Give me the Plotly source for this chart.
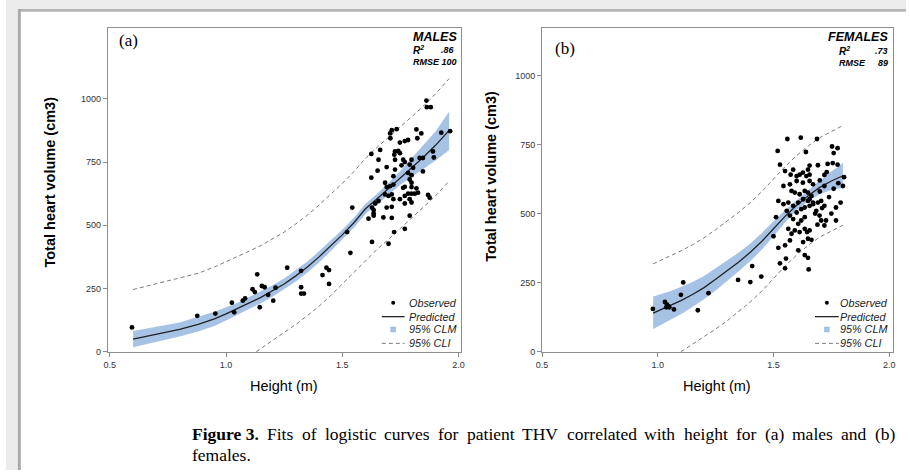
import plotly.graph_objects as go

W, H = 910, 475

# ---------------- males ----------------
male_h = [0.595, 0.876, 0.954, 1.025, 1.035, 1.072, 1.082, 1.114, 1.124, 1.134, 1.145, 1.154,
          1.166, 1.181, 1.203, 1.213, 1.263, 1.323, 1.323, 1.323, 1.335, 1.415, 1.432, 1.443,
          1.443, 1.535, 1.521, 1.543,
          1.635, 1.723,
          1.862, 1.864, 1.881, 1.713, 1.734, 1.706, 1.819, 1.840, 1.707, 1.748, 1.769, 1.783,
          1.823, 1.926, 1.964, 1.663, 1.625, 1.727, 1.741, 1.748, 1.724, 1.890, 1.894, 1.656,
          1.727, 1.762, 1.769, 1.798, 1.833, 1.847, 1.652, 1.691, 1.727, 1.755, 1.790, 1.805,
          1.847, 1.783, 1.798, 1.720, 1.625, 1.684, 1.691, 1.706, 1.720, 1.762, 1.769, 1.790,
          1.798, 1.798, 1.819, 1.826, 1.812, 1.783, 1.798, 1.769, 1.748, 1.790, 1.798, 1.713,
          1.699, 1.684, 1.720, 1.869, 1.876, 1.642, 1.656, 1.691, 1.713, 1.769, 1.628, 1.635,
          1.613, 1.635, 1.677, 1.713, 1.790, 1.769, 1.628, 1.699]
male_thv = [96, 142, 151, 194, 156, 202, 211, 247, 236, 306, 176, 260,
            255, 225, 202, 253, 332, 320, 255, 230, 230, 303, 332, 323,
            268, 391, 473, 570,
            547, 473,
            993, 967, 967, 876, 880, 863, 879, 863, 844, 827, 833, 837,
            844, 866, 872, 798, 782, 792, 794, 785, 779, 792, 768, 759,
            759, 759, 750, 759, 766, 766, 716, 730, 720, 737, 740, 727,
            713, 707, 698, 694, 688, 668, 651, 655, 661, 648, 652, 681,
            668, 651, 646, 629, 625, 625, 625, 616, 603, 603, 590, 622,
            616, 622, 603, 620, 609, 586, 596, 570, 573, 586, 570, 560,
            526, 538, 531, 529, 538, 486, 434, 427]

male_fit_h = [0.60, 0.70, 0.80, 0.88, 0.95, 1.00, 1.05, 1.10, 1.15, 1.20, 1.25, 1.30, 1.35,
              1.40, 1.45, 1.50, 1.55, 1.60, 1.65, 1.70, 1.75, 1.80, 1.85, 1.90, 1.96]
male_pred = [50, 68, 88, 108, 130, 150, 170, 193, 215, 240, 268, 300, 335,
             375, 418, 462, 510, 565, 605, 645, 688, 728, 770, 815, 875]
male_clm_lo = [18, 38, 60, 80, 102, 124, 146, 170, 192, 217, 246, 278, 313,
               353, 397, 442, 490, 545, 585, 622, 660, 692, 722, 755, 798]
male_clm_hi = [82, 98, 116, 138, 158, 176, 194, 216, 238, 263, 290, 322, 357,
               397, 439, 482, 530, 585, 625, 668, 716, 765, 818, 870, 950]
male_cli_hi = [246, 268, 290, 310, 335, 355, 375, 398, 420, 446, 473, 505, 540,
               580, 622, 665, 712, 765, 808, 848, 890, 930, 972, 1018, 1080]
male_cli_lo_h = [1.13, 1.20, 1.25, 1.30, 1.35, 1.40, 1.45, 1.50, 1.55, 1.60, 1.65, 1.70,
                 1.75, 1.80, 1.85, 1.90, 1.96]
male_cli_lo = [0, 45, 75, 108, 143, 180, 222, 268, 315, 362, 405, 445,
               488, 528, 570, 615, 675]

# ---------------- females ----------------
female_h = [0.979, 1.031, 1.037, 1.040, 1.045, 1.050, 1.070, 1.100, 1.110, 1.173, 1.219, 1.347,
            1.400, 1.408, 1.447, 1.500, 1.521, 1.528, 1.550, 1.554, 1.511, 1.652, 1.649, 1.770,
            1.770,
            1.518, 1.560, 1.618, 1.688, 1.640, 1.528, 1.753, 1.777, 1.760, 1.734, 1.756, 1.777,
            1.692, 1.656, 1.649, 1.805,
            1.550, 1.585, 1.574, 1.600, 1.613, 1.627, 1.642, 1.656, 1.543, 1.571, 1.600, 1.627,
            1.656, 1.671, 1.578, 1.592, 1.613, 1.635, 1.649, 1.664, 1.521, 1.543, 1.564, 1.585,
            1.607, 1.628, 1.649, 1.671, 1.557, 1.600, 1.620, 1.635, 1.656, 1.571, 1.585, 1.607,
            1.620, 1.635, 1.564, 1.578, 1.592, 1.613, 1.635, 1.645, 1.571, 1.628, 1.649, 1.550,
            1.607, 1.635,
            1.656, 1.671, 1.692, 1.706, 1.720, 1.685, 1.699, 1.706, 1.727, 1.720, 1.656, 1.664,
            1.700, 1.720, 1.740, 1.760, 1.780, 1.790, 1.800, 1.730, 1.710, 1.750, 1.680, 1.690,
            1.700, 1.720]
female_thv = [155, 180, 161, 170, 165, 161, 153, 206, 251, 150, 212, 260,
              252, 310, 272, 418, 376, 320, 302, 337, 487, 298, 340, 522,
              475,
              727, 770, 775, 770, 723, 677, 743, 737, 719, 680, 683, 677,
              675, 674, 659, 632,
              654, 659, 641, 636, 641, 648, 636, 641, 600, 606, 618, 612,
              618, 606, 582, 576, 570, 582, 576, 564, 546, 534, 540, 528,
              540, 552, 546, 540, 510, 504, 516, 522, 528, 493, 480, 463,
              475, 487, 445, 427, 439, 433, 445, 433, 403, 397, 409, 385,
              367, 350,
              552, 534, 540, 546, 528, 510, 493, 475, 475, 457, 439, 405,
              620, 600, 560, 590, 610, 540, 600, 650, 520, 500, 500, 460,
              580, 640]

female_fit_h = [0.98, 1.05, 1.10, 1.15, 1.20, 1.25, 1.30, 1.35, 1.40, 1.45, 1.50, 1.55,
                1.60, 1.65, 1.70, 1.75, 1.80]
female_pred = [140, 165, 185, 207, 232, 262, 292, 325, 360, 400, 445, 490,
               530, 565, 595, 618, 637]
female_clm_lo = [82, 112, 136, 162, 190, 222, 255, 291, 328, 370, 418, 468,
                 512, 545, 570, 585, 594]
female_clm_hi = [200, 218, 234, 252, 274, 302, 329, 359, 392, 430, 472, 512,
                 548, 585, 620, 652, 683]
female_cli_hi = [318, 345, 365, 387, 412, 442, 472, 505, 540, 580, 625, 670,
                 710, 745, 775, 798, 819]
female_cli_lo_h = [1.10, 1.15, 1.20, 1.25, 1.30, 1.35, 1.40, 1.45, 1.50, 1.55, 1.60,
                   1.65, 1.70, 1.75, 1.80]
female_cli_lo = [0, 27, 52, 82, 112, 145, 180, 220, 265, 310, 350, 385, 415, 438, 458]

x_ticks = [0.5, 1.0, 1.5, 2.0]
x_tick_text = ["0.5", "1.0", "1.5", "2.0"]
y_ticks = [0, 250, 500, 750, 1000]
y_tick_text = ["0", "250", "500", "750", "1000"]

caption_lead = "Figure 3."
caption_words = ["Fits", "of", "logistic", "curves", "for", "patient", "THV", "correlated",
                 "with", "height", "for", "(a)", "males", "and", "(b)"]
caption_tail = "females."

SANS = "Liberation Sans, Arial, sans-serif"
SERIF = "Liberation Serif, Times New Roman, serif"
BAND = "#a6c3e6"
FRAME = "#8c8c8c"
DASH_COL = "#7a7a7a"

# Times advance widths (per 1000 em) for justifying the caption line
TIMES_REG = {"F": 556, "i": 278, "t": 278, "s": 389, "o": 500, "f": 333, "l": 278,
             "g": 500, "c": 444, "u": 500, "r": 333, "v": 500, "e": 444, "p": 500,
             "a": 444, "n": 500, "T": 611, "H": 722, "V": 722, "w": 722, "h": 500,
             "(": 333, ")": 333, "m": 778, "d": 500, "b": 500, " ": 250, ".": 250,
             "3": 500}
TIMES_BOLD = {"F": 611, "i": 278, "g": 500, "u": 556, "r": 444, "e": 444, "3": 500,
              ".": 250, " ": 250}


def text_width(s, size, table):
    return sum(table.get(ch, 500) for ch in s) * size / 1000.0


def px(x):
    return x / W


def py(y):
    return 1 - y / H


fig = go.Figure()


def add_panel(xa, ya, h, v, fh, pred, lo, hi, cli_hi, cli_lo_h, cli_lo):
    fig.add_trace(go.Scatter(x=fh, y=lo, mode="lines", line=dict(width=0),
                             xaxis=xa, yaxis=ya, hoverinfo="skip", showlegend=False))
    fig.add_trace(go.Scatter(x=fh, y=hi, mode="lines", line=dict(width=0), fill="tonexty",
                             fillcolor=BAND, xaxis=xa, yaxis=ya, hoverinfo="skip",
                             showlegend=False))
    fig.add_trace(go.Scatter(x=fh, y=cli_hi, mode="lines",
                             line=dict(color=DASH_COL, width=1, dash="4px,3px"),
                             xaxis=xa, yaxis=ya, showlegend=False))
    fig.add_trace(go.Scatter(x=cli_lo_h, y=cli_lo, mode="lines",
                             line=dict(color=DASH_COL, width=1, dash="4px,3px"),
                             xaxis=xa, yaxis=ya, showlegend=False))
    fig.add_trace(go.Scatter(x=fh, y=pred, mode="lines",
                             line=dict(color="#222222", width=1.3),
                             xaxis=xa, yaxis=ya, showlegend=False))
    fig.add_trace(go.Scatter(x=h, y=v, mode="markers",
                             marker=dict(color="black", size=4.8),
                             xaxis=xa, yaxis=ya, showlegend=False))


add_panel("x", "y", male_h, male_thv, male_fit_h, male_pred, male_clm_lo, male_clm_hi,
          male_cli_hi, male_cli_lo_h, male_cli_lo)
add_panel("x2", "y2", female_h, female_thv, female_fit_h, female_pred, female_clm_lo,
          female_clm_hi, female_cli_hi, female_cli_lo_h, female_cli_lo)

axis_common = dict(showgrid=False, zeroline=False, showline=True, linecolor=FRAME,
                   linewidth=1, mirror=True, ticks="outside", ticklen=4, tickcolor=FRAME,
                   tickfont=dict(family=SANS, size=9, color="#333333"))

fig.update_layout(
    width=W, height=H, margin=dict(l=0, r=0, t=0, b=0),
    paper_bgcolor="white", plot_bgcolor="white",
    xaxis=dict(domain=[px(103), px(460)], range=[0.4915, 2.0106], anchor="y",
               tickvals=x_ticks, ticktext=x_tick_text, **axis_common),
    yaxis=dict(domain=[py(356), py(28)], range=[-2, 1281], anchor="x",
               tickvals=y_ticks, ticktext=y_tick_text, **axis_common),
    xaxis2=dict(domain=[px(542), px(897)], range=[0.5, 2.017], anchor="y2",
                tickvals=x_ticks, ticktext=x_tick_text, **axis_common),
    yaxis2=dict(domain=[py(356), py(28)], range=[-2, 1173], anchor="x2",
                tickvals=y_ticks, ticktext=y_tick_text, **axis_common),
)

shapes = []
# document viewer surround
shapes.append(dict(type="rect", xref="paper", yref="paper", x0=0, x1=1, y0=py(9), y1=1,
                   fillcolor="#ececec", line=dict(width=0), layer="below"))
shapes.append(dict(type="rect", xref="paper", yref="paper", x0=0, x1=px(12), y0=0, y1=1,
                   fillcolor="#ececec", line=dict(width=0), layer="below"))
shapes.append(dict(type="rect", xref="paper", yref="paper", x0=px(12), x1=1, y0=py(12),
                   y1=py(9), fillcolor="#b4b4b4", line=dict(width=0), layer="below"))
shapes.append(dict(type="rect", xref="paper", yref="paper", x0=px(12), x1=px(15), y0=0,
                   y1=py(9), fillcolor="#ababab", line=dict(width=0), layer="below"))

annotations = []


def text(x, y, s, size, family=SANS, xanchor="center", color="black", **kw):
    annotations.append(dict(x=px(x), y=py(y), xref="paper", yref="paper", text=s,
                            showarrow=False, xanchor=xanchor, yanchor="middle",
                            font=dict(family=family, size=size, color=color), **kw))


def legend_block(x_sym0, x_sym1, x_text, rows):
    xc = (x_sym0 + x_sym1) / 2
    r_obs, r_pred, r_clm, r_cli = rows
    shapes.append(dict(type="circle", xref="paper", yref="paper",
                       x0=px(xc - 2), x1=px(xc + 2), y0=py(r_obs + 2), y1=py(r_obs - 2),
                       fillcolor="black", line=dict(width=0)))
    shapes.append(dict(type="line", xref="paper", yref="paper",
                       x0=px(x_sym0), x1=px(x_sym1), y0=py(r_pred), y1=py(r_pred),
                       line=dict(color="#222222", width=1.3)))
    shapes.append(dict(type="rect", xref="paper", yref="paper",
                       x0=px(xc - 2.5), x1=px(xc + 2.5), y0=py(r_clm + 2.5), y1=py(r_clm - 2.5),
                       fillcolor=BAND, line=dict(color="#8fb0d8", width=0.5)))
    shapes.append(dict(type="line", xref="paper", yref="paper",
                       x0=px(x_sym0), x1=px(x_sym1), y0=py(r_cli), y1=py(r_cli),
                       line=dict(color=DASH_COL, width=1, dash="4px,3px")))
    for r, s in zip(rows, ["<i>Observed</i>", "<i>Predicted</i>", "<i>95% CLM</i>",
                           "<i>95% CLI</i>"]):
        text(x_text, r, s, 10.8, xanchor="left", color="#222222")


legend_block(380, 403, 405, [306, 320, 333, 347])
legend_block(818, 842, 841, [306, 320, 333, 347])

# panel stats
text(458, 37, "<b><i>MALES</i></b>", 12.5, xanchor="right")
text(409, 51, "<b><i>R<sup>2</sup></i></b>", 10, xanchor="left")
text(456, 51, "<b><i>.86</i></b>", 9, xanchor="right")
text(409, 63, "<b><i>RMSE 100</i></b>", 9, xanchor="left")

text(894, 37, "<b><i>FEMALES</i></b>", 12.5, xanchor="right")
text(840, 52, "<b><i>R<sup>2</sup></i></b>", 10, xanchor="left")
text(894, 52, "<b><i>.73</i></b>", 9, xanchor="right")
text(840, 64, "<b><i>RMSE</i></b>", 9, xanchor="left")
text(894, 64, "<b><i>89</i></b>", 9, xanchor="right")

# panel letters
text(124, 41, "(a)", 17, family=SERIF)
text(565, 49, "(b)", 17, family=SERIF)

# axis titles
text(281, 390, "Height (m)", 14.5)
text(719, 390, "Height (m)", 14.5)
text(45, 184, "<b>Total heart volume (cm3)</b>", 14.5, textangle=-90)
text(491, 178, "<b>Total heart volume (cm3)</b>", 14.5, textangle=-90)

# caption: first line justified between the page margins
CAP_SIZE = 17.5
cap_x0, cap_x1 = 186, 897
lead_w = text_width(caption_lead, CAP_SIZE, TIMES_BOLD)
word_ws = [text_width(wd, CAP_SIZE, TIMES_REG) for wd in caption_words]
gap = (cap_x1 - cap_x0 - lead_w - sum(word_ws)) / len(caption_words)
text(cap_x0, 439, "<b>" + caption_lead + "</b>", CAP_SIZE, family=SERIF, xanchor="left")
cur = cap_x0 + lead_w + gap
for wd, ww in zip(caption_words, word_ws):
    text(cur, 439, wd, CAP_SIZE, family=SERIF, xanchor="left")
    cur += ww + gap
text(cap_x0, 460, caption_tail, CAP_SIZE, family=SERIF, xanchor="left")

fig.update_layout(shapes=shapes, annotations=annotations)
fig.write_html("out.html")
